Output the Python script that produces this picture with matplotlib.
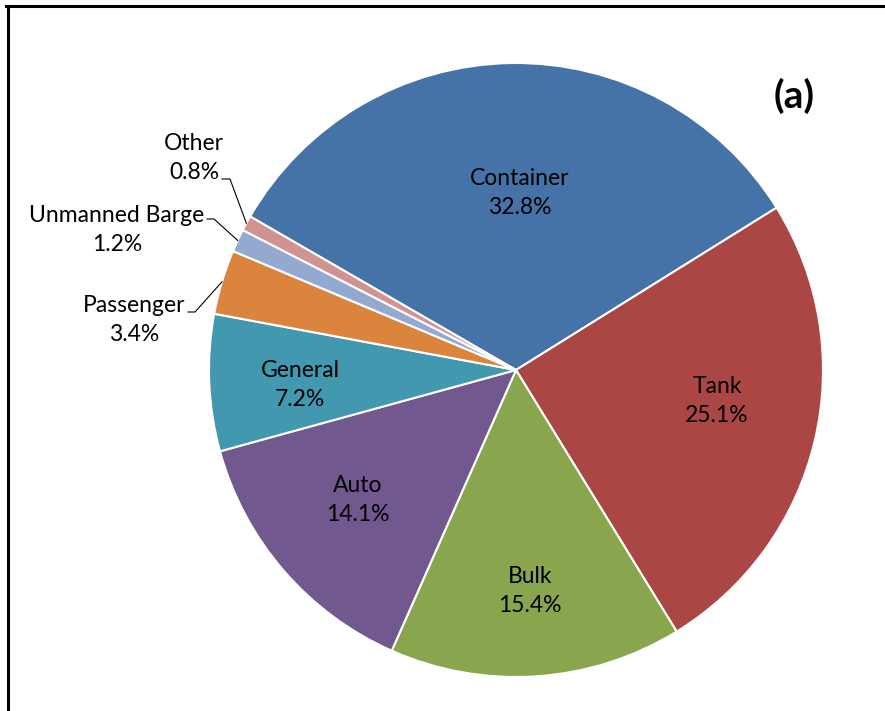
import matplotlib
matplotlib.use("Agg")
import matplotlib.pyplot as plt
import numpy as np
from matplotlib.lines import Line2D

categories = ["Container", "Tank", "Bulk", "Auto", "General", "Passenger", "Unmanned Barge", "Other"]
shares = [32.8, 25.1, 15.4, 14.1, 7.2, 3.4, 1.2, 0.8]
pct_labels = ["32.8%", "25.1%", "15.4%", "14.1%", "7.2%", "3.4%", "1.2%", "0.8%"]
colors = ["#4572A7", "#AA4643", "#89A54E", "#71588F", "#4198AF", "#DB843D", "#93A9CF", "#D19392"]

W, H = 885, 711
fig = plt.figure(figsize=(W / 100, H / 100), dpi=100)
ax = fig.add_axes([0, 0, 1, 1])
plt.rcParams['font.family'] = ['Lato', 'DejaVu Sans']

cx, cy, R = 516, H - 370, 307
start = 150.0
wedges, _ = ax.pie(shares, colors=colors, startangle=start, counterclock=False,
                   center=(cx, cy), radius=R,
                   wedgeprops=dict(edgecolor="white", linewidth=1.5))
ax.set_xlim(0, W)
ax.set_ylim(0, H)
ax.set_aspect("equal")
ax.axis("off")

fs = 16.5
ls = 1.5
# label centres in pixels from top-left
label_pos = [(520, 193), (717, 401), (530, 591), (358, 500), (300, 385),
             (134, 320), (117, 230), (194, 158)]
for i, (lx, ly) in enumerate(label_pos):
    ax.text(lx, H - ly, categories[i] + "\n" + pct_labels[i], ha="center", va="center",
            fontsize=fs, linespacing=ls, color="#000000")

leader = {5: [(188, 312), (195, 312)], 6: [(207, 219), (214, 219)], 7: [(222, 179), (230, 179)]}
for i, pts in leader.items():
    w = wedges[i]
    mid = np.deg2rad((w.theta1 + w.theta2) / 2)
    ex = cx + R * np.cos(mid)
    ey = cy + R * np.sin(mid)
    (x0, y0), (x1, y1) = pts
    ax.plot([x0, x1, ex], [H - y0, H - y1, ey], color="black", lw=0.8)

ax.text(794, H - 96, "(a)", ha="center", va="center", fontsize=28, fontweight="bold")

# frame (left and top edges visible)
fig.add_artist(Line2D([7.5 / W, 7.5 / W], [0, 1 - 6 / H], transform=fig.transFigure, color="black", lw=2.2))
fig.add_artist(Line2D([6.4 / W, 1], [1 - 6 / H, 1 - 6 / H], transform=fig.transFigure, color="black", lw=2.2))

fig.savefig("out.png", dpi=100)
